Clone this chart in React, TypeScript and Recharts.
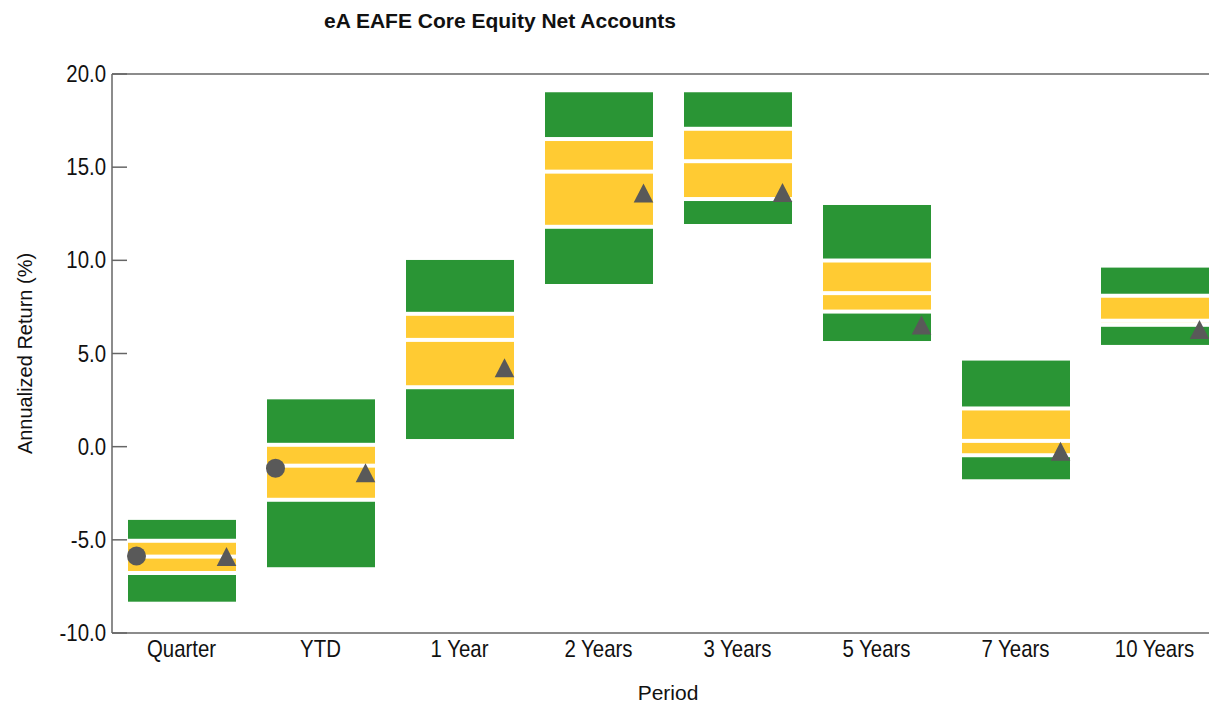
import { ComposedChart, Bar, Scatter, XAxis, YAxis, ReferenceLine } from 'recharts'

const periods = ['Quarter', 'YTD', '1 Year', '2 Years', '3 Years', '5 Years', '7 Years', '10 Years']
const pct5 = [-3.93, 2.54, 10.02, 19.02, 19.02, 12.97, 4.62, 9.61]
const pct25 = [-5.05, 0.1, 7.13, 16.51, 17.06, 9.99, 2.05, 8.1]
const median = [-5.9, -1.02, 5.73, 14.76, 15.32, 8.24, 0.31, 6.76]
const pct75 = [-6.78, -2.85, 3.19, 11.8, 13.29, 7.25, -0.46, 6.54]
const pct95 = [-8.32, -6.47, 0.41, 8.73, 11.95, 5.67, -1.75, 5.46]
const portfolio = [-5.87, -1.16, null, null, null, null, null, null]
const benchmark = [-5.9, -1.4, 4.24, 13.62, 13.64, 6.53, -0.24, 6.29]
const yTicks = [-10, -5, 0, 5, 10, 15, 20]

const data = periods.map((period, i) => ({
  period,
  p5: pct5[i],
  p25: pct25[i],
  p50: median[i],
  p75: pct75[i],
  p95: pct95[i],
  portfolio: portfolio[i],
  benchmark: benchmark[i],
}))

const GREEN = '#2a9535'
const YELLOW = '#ffcb33'
const MARK = '#595959'
const AXIS = '#666'
const font = "'Liberation Sans', Arial, sans-serif"
const squeeze = 0.85 // tick labels in the original are a narrow face

// one bar per period, split into the four percentile bands with white gaps
function RangeShape(props: any) {
  const { x, y, width, height, payload } = props
  if (payload == null || height == null) return <g />
  const top = Math.min(y, y + height)
  const h = Math.abs(height)
  const span = payload.p5 - payload.p95
  const py = (v: number) => top + ((payload.p5 - v) / span) * h
  const gap = 2
  const bands = [
    { a: top, b: py(payload.p25) - gap, c: GREEN },
    { a: py(payload.p25) + gap, b: py(payload.p50) - gap, c: YELLOW },
    { a: py(payload.p50) + gap, b: py(payload.p75) - gap, c: YELLOW },
    { a: py(payload.p75) + gap, b: top + h, c: GREEN },
  ]
  return (
    <g>
      {bands.map((s, i) => (
        <rect key={i} x={x} y={s.a} width={width} height={Math.max(0, s.b - s.a)} fill={s.c} />
      ))}
    </g>
  )
}

function CircleMark(props: any) {
  const { cx, cy, payload } = props
  if (payload?.portfolio == null || cy == null || isNaN(cy)) return <g />
  return <circle cx={cx - 45} cy={cy} r={9.5} fill={MARK} />
}

function TriangleMark(props: any) {
  const { cx, cy, payload } = props
  if (payload?.benchmark == null || cy == null || isNaN(cy)) return <g />
  const x = cx + 45
  const pts = `${x},${cy - 9.5} ${x - 9.8},${cy + 9.5} ${x + 9.8},${cy + 9.5}`
  return <polygon points={pts} fill={MARK} />
}

function XTick(props: any) {
  const { x, y, payload } = props
  return (
    <g transform={`translate(${x} ${y + 24}) scale(${squeeze} 1)`}>
      <text x={0} y={0} textAnchor="middle" fontFamily={font} fontSize={24} fill="#111">
        {payload.value}
      </text>
    </g>
  )
}

function YTick(props: any) {
  const { y, payload } = props
  return (
    <g transform={`translate(98 ${y + 8}) scale(${squeeze} 1)`}>
      <text x={0} y={0} textAnchor="end" fontFamily={font} fontSize={24} fill="#111">
        {Number(payload.value).toFixed(1)}
      </text>
    </g>
  )
}

export default function App() {
  return (
    <div style={{ position: 'relative', width: 1201, height: 697, overflow: 'hidden' }}>
      <style>{'html { overflow: hidden; } body { margin-right: 0; } #root { width: 1201px; }'}</style>
      <div
        style={{
          position: 'absolute',
          top: 2,
          left: 0,
          width: 984,
          textAlign: 'center',
          fontFamily: font,
          fontWeight: 'bold',
          fontSize: 21,
          lineHeight: '21px',
          color: '#111',
        }}
      >
        eA EAFE Core Equity Net Accounts
      </div>
      <ComposedChart
        width={1220}
        height={695}
        data={data}
        margin={{ top: 66, right: 4, left: 0, bottom: 0 }}
      >
        <XAxis
          dataKey="period"
          height={70}
          axisLine={{ stroke: AXIS, strokeWidth: 1.5 }}
          tickLine={false}
          tickSize={0}
          tickMargin={0}
          tick={<XTick />}
          interval={0}
          label={{
            content: (p: any) => {
              const vb = p.viewBox
              return (
                <text x={vb.x + vb.width / 2} y={vb.y + 67} textAnchor="middle" fontFamily={font} fontSize={21} fill="#111">
                  Period
                </text>
              )
            },
          }}
        />
        <YAxis
          width={104}
          domain={[-10, 20]}
          ticks={yTicks}
          allowDataOverflow
          axisLine={{ stroke: AXIS, strokeWidth: 1.5 }}
          tickLine={{ stroke: AXIS, strokeWidth: 1.5 }}
          tickSize={-15}
          tickMargin={21}
          tick={<YTick />}
          label={{
            content: (p: any) => {
              const vb = p.viewBox
              const cx = vb.x + 17
              const cy = vb.y + vb.height / 2
              return (
                <text
                  x={cx}
                  y={cy}
                  dy="0.35em"
                  transform={`rotate(-90 ${cx} ${cy})`}
                  textAnchor="middle"
                  fontFamily={font}
                  fontSize={20}
                  fill="#111"
                >
                  Annualized Return (%)
                </text>
              )
            },
          }}
        />
        <ReferenceLine y={20} stroke={AXIS} strokeWidth={1.5} />
        <Bar dataKey={(d: any) => [d.p95, d.p5]} barSize={108} shape={<RangeShape />} isAnimationActive={false} />
        <Scatter dataKey="portfolio" shape={<CircleMark />} isAnimationActive={false} />
        <Scatter dataKey="benchmark" shape={<TriangleMark />} isAnimationActive={false} />
      </ComposedChart>
    </div>
  )
}
